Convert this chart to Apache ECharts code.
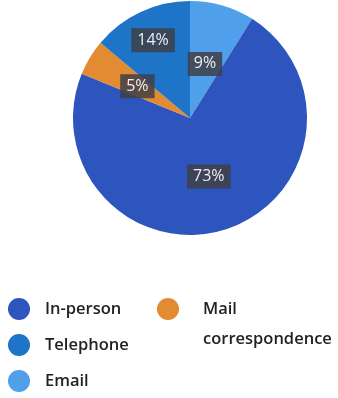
<!DOCTYPE html>
<html>
<head>
<meta charset="utf-8">
<script src="https://cdn.jsdelivr.net/npm/echarts@6/dist/echarts.min.js"></script>
<style>
  html, body { margin: 0; padding: 0; background: #ffffff; }
  #chart { width: 338px; height: 398px; }
</style>
</head>
<body>
<div id="chart"></div>
<script>
// Contact channels, clockwise from 12 o'clock
const categories = ['Email', 'In-person', 'Mail correspondence', 'Telephone'];
const shares = [9, 73, 5, 14];
const colors = ['#4F9FEA', '#2E55BE', '#E28B33', '#1E74C6'];

// Legend groups: first column, then the wrapped second column
const legendMain = ['In-person', 'Telephone', 'Email'];
const legendSide = ['Mail correspondence'];

const pieData = categories.map((name, i) => ({
  name: name,
  value: shares[i],
  itemStyle: { color: colors[i] }
}));

const chart = echarts.init(document.getElementById('chart'), null, { renderer: 'canvas' });

const legendText = {
  fontFamily: 'Open Sans',
  fontSize: 16.5,
  fontWeight: 600,
  color: '#222222'
};

chart.setOption({
  animation: false,
  backgroundColor: '#ffffff',
  legend: [
    {
      data: legendMain,
      orient: 'vertical',
      left: 8,
      top: 298,
      padding: 0,
      icon: 'circle',
      itemWidth: 22,
      itemHeight: 22,
      itemGap: 14,
      selectedMode: false,
      textStyle: Object.assign({ padding: [0, 0, 0, 10] }, legendText)
    },
    {
      data: legendSide,
      orient: 'vertical',
      left: 157,
      top: 264,
      padding: 0,
      icon: 'circle',
      itemWidth: 22,
      itemHeight: 22,
      selectedMode: false,
      // a blank first line keeps "Mail" level with the marker and wraps the rest below
      formatter: function (name) { return ' \n' + name.replace(' ', '\n'); },
      textStyle: Object.assign({ padding: [0, 0, 0, 19], lineHeight: 30 }, legendText)
    }
  ],
  series: [{
    type: 'pie',
    center: [190, 118],
    radius: 117,
    startAngle: 90,
    clockwise: true,
    data: pieData,
    itemStyle: { borderWidth: 0 },
    emphasis: { disabled: true },
    label: {
      show: true,
      position: 'inside',
      formatter: '{c}%',
      fontFamily: 'Open Sans',
      fontSize: 16,
      lineHeight: 17,
      color: '#eeeeee',
      backgroundColor: 'rgba(62,64,70,0.85)',
      padding: [4, 6, 3, 6]
    },
    labelLine: { show: false },
    labelLayout: function (params) {
      // Telephone label sits further out along its slice, Email label a little lower
      if (params.dataIndex === 3) {
        return { dx: -11, dy: -22 };
      }
      if (params.dataIndex === 0) {
        return { dx: -2, dy: 5 };
      }
      return {};
    }
  }]
});
</script>
</body>
</html>
